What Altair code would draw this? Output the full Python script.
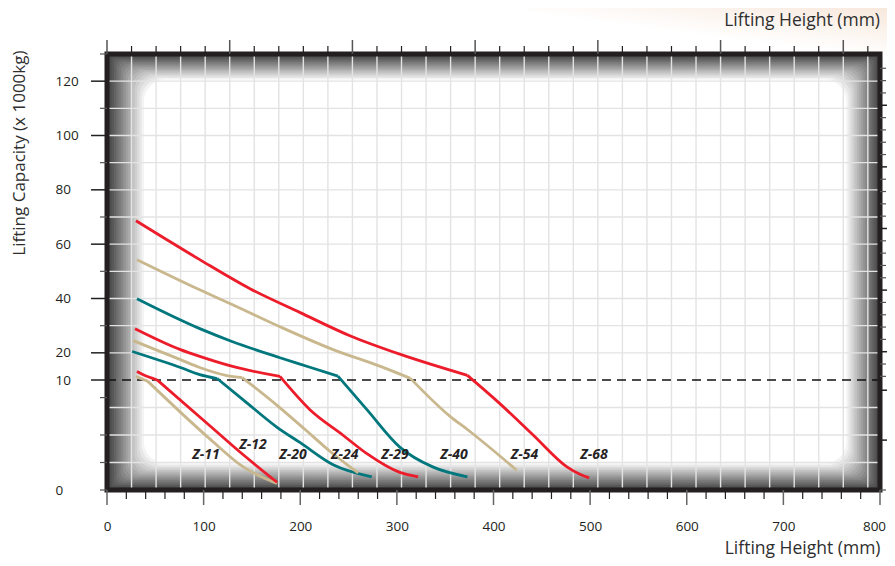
import altair as alt
import pandas as pd

# ---------------- data ----------------
series_names = ["Z-11", "Z-12", "Z-20", "Z-24", "Z-29", "Z-40", "Z-54", "Z-68"]
series_colors = ["#c9b78d", "#ec1c2b", "#00777d", "#c9b78d",
                 "#ec1c2b", "#00777d", "#c9b78d", "#ec1c2b"]

# lifting height (mm) / capacity (x 1000 kg)
z11_x = [30, 42, 107, 141, 176]
z11_y = [11.3, 9.9, 4.6, 2.1, 0.6]
z12_x = [31, 37, 52, 107, 141, 176]
z12_y = [13.1, 12.0, 10.0, 5.8, 3.2, 0.7]
z20_x = [26, 76, 96, 114, 141, 176, 200, 234, 274]
z20_y = [20.5, 14.6, 12.0, 10.55, 8.2, 5.7, 4.3, 2.3, 1.2]
z24_x = [27, 76, 96, 124, 140, 176, 205, 231, 260]
z24_y = [24.5, 17.5, 14.6, 11.65, 10.9, 7.7, 5.5, 3.5, 1.55]
z29_x = [29, 76, 96, 130, 179, 210, 244, 269, 303, 322]
z29_y = [28.9, 21.2, 18.7, 15.0, 11.3, 7.3, 5.0, 3.3, 1.6, 1.2]
z40_x = [31, 96, 130, 179, 210, 239, 269, 303, 337, 373]
z40_y = [39.9, 28.9, 24.1, 18.2, 14.7, 11.4, 7.3, 3.9, 2.1, 1.2]
z54_x = [31, 96, 130, 179, 234, 283, 314, 355, 373, 424]
z54_y = [54.3, 43.2, 37.7, 29.6, 21.2, 15.0, 10.6, 6.7, 5.5, 1.8]
z68_x = [30, 96, 148, 200, 252, 303, 373, 406, 441, 476, 490, 499]
z68_y = [68.6, 54.3, 43.6, 34.8, 26.2, 19.5, 11.7, 7.9, 5.0, 2.1, 1.4, 1.1]
# index of the knee point (end of the gentle part, start of the steep part)
knee_index = [1, 2, 3, 4, 4, 5, 6, 6]

label_x = [102.5, 151, 192.5, 246, 298, 359, 432, 504]
label_y = [3.2, 4.1, 3.2, 3.2, 3.2, 3.2, 3.2, 3.2]

x_labels = [0, 100, 200, 300, 400, 500, 600, 700, 800]
x_minor = [v for v in range(0, 801, 20) if v % 100 != 0]
y_labels = [0, 10, 20, 40, 60, 80, 100, 120]
y_major_ticks = [10, 20, 40, 60, 80, 100, 120]
y_minor_ticks = [0, 2.5, 5, 8.4, 30, 50, 70, 90, 110, 130]
y_grid = [2.5, 5, 7.5, 20, 30, 40, 50, 60, 70, 80, 90, 100, 110, 120]
inch_ticks = list(range(0, 32))                                # top axis (inches)
ton_ticks = [0, 5, 10] + [12.5 + 5 * k for k in range(26)]     # right axis (US tons)
ton_major = [5, 10, 22.5, 47.5, 72.5, 97.5, 122.5]
MM_PER_INCH = 25.4
TONNE_PER_TON = 0.90718

# ---------------- layout ----------------
W, H = 773, 436
FONT = "Open Sans"
INK = "#231f20"
TITLE_COL = "#2e2e2e"

series_x = [z11_x, z12_x, z20_x, z24_x, z29_x, z40_x, z54_x, z68_x]
series_y = [z11_y, z12_y, z20_y, z24_y, z29_y, z40_y, z54_y, z68_y]
rows = []
for name, xs_, ys_, k in zip(series_names, series_x, series_y, knee_index):
    for i, (a, b) in enumerate(zip(xs_, ys_)):
        if i <= k:
            rows.append({"series": name, "seg": name + "a", "i": i, "x": a, "y": b})
        if i >= k:
            rows.append({"series": name, "seg": name + "b", "i": i, "x": a, "y": b})
lines_df = pd.DataFrame(rows)
labels_df = pd.DataFrame({"label": series_names, "x": label_x, "y": label_y})
one = pd.DataFrame({"a": [0]})

xs = alt.Scale(domain=[0, 800], nice=False, zero=False)
ys = alt.Scale(domain=[0, 10, 130], range=[H, H - 110, 0], nice=False, zero=False)

x_axis = alt.Axis(values=x_labels, tickSize=15, tickOpacity=0, labelPadding=14.5,
                  labelFont=FONT, labelFontSize=13.5, labelColor=INK, labelFlush=False,
                  labelOffset={"condition": {"test": "datum.value === 800", "value": -6},
                               "value": 0},
                  labelOverlap=False, domain=False, grid=False,
                  title="Lifting Height (mm)", titleX=W, titleY=63, titleAlign="right",
                  titleBaseline="alphabetic", titleFont=FONT, titleFontSize=17.5,
                  titleFontWeight="normal", titleColor=TITLE_COL)
y_axis = alt.Axis(values=y_labels, tickSize=16, tickOpacity=0, labelPadding=36,
                  labelAlign="left", labelBaseline="middle", labelFont=FONT,
                  labelFontSize=13.5, labelColor=INK, labelOverlap=False, domain=False,
                  grid=False, title="Lifting Capacity (x 1000kg)", titleX=-83, titleY=-4,
                  titleAngle=270, titleAlign="right", titleBaseline="alphabetic",
                  titleFont=FONT, titleFontSize=17, titleFontWeight="normal",
                  titleColor=TITLE_COL)

def X(field):
    return alt.X(field, scale=xs, axis=x_axis)

def Y(field):
    return alt.Y(field, scale=ys, axis=y_axis)

layers = []

# faint warm tint at the top right of the page
glow = {"gradient": "linear", "x1": 0, "y1": 1, "x2": 1, "y2": 0,
        "stops": [{"offset": 0, "color": "#ffffff"}, {"offset": 0.45, "color": "#ffffff"},
                  {"offset": 1, "color": "#f8e8dc"}]}
layers.append(alt.Chart(one).mark_rect(fill=glow).encode(
    x=alt.value(420), x2=alt.value(W + 7), y=alt.value(-46), y2=alt.value(0)))

# dark base of plot area and white vignette
layers.append(alt.Chart(one).mark_rect(fill="#424242").encode(
    x=alt.value(0), x2=alt.value(W), y=alt.value(0), y2=alt.value(H)))
N = 16
for i in range(1, N + 1):
    layers.append(alt.Chart(one).mark_rect(
        fill="#ffffff", opacity=1.0 / (N - i + 1), cornerRadius=i * 1.4
    ).encode(x=alt.value(i * 2.3), x2=alt.value(W - i * 2.1),
             y=alt.value(i * 1.6), y2=alt.value(H - i * 1.65)))

# gridlines
grid_col = "#e3e3e3"
layers.append(alt.Chart(pd.DataFrame({"x": [k * MM_PER_INCH for k in inch_ticks[1:]]}))
              .mark_rule(color=grid_col, strokeWidth=1.4)
              .encode(x=X("x:Q"), y=alt.value(0), y2=alt.value(H)))
layers.append(alt.Chart(pd.DataFrame({"y": y_grid}))
              .mark_rule(color=grid_col, strokeWidth=1.4)
              .encode(y=Y("y:Q"), x=alt.value(0), x2=alt.value(W)))
# dashed 10 t line
layers.append(alt.Chart(pd.DataFrame({"y": [10]}))
              .mark_rule(color="#111111", strokeDash=[9, 6], strokeWidth=1.3)
              .encode(y=Y("y:Q"), x=alt.value(0), x2=alt.value(W)))

# capacity curves
layers.append(alt.Chart(lines_df).mark_line(strokeWidth=2.8, interpolate="monotone").encode(
    x=X("x:Q"), y=Y("y:Q"),
    color=alt.Color("series:N", scale=alt.Scale(domain=series_names, range=series_colors),
                    legend=None),
    detail="seg:N",
    order="i:Q"))

layers.append(alt.Chart(labels_df).mark_text(
    font=FONT, fontSize=14, fontStyle="italic", fontWeight="bold", color="#262223"
).encode(x=X("x:Q"), y=Y("y:Q"), text="label:N"))

# heavy frame
layers.append(alt.Chart(one).mark_rect(fill="#000000", fillOpacity=0, stroke=INK,
                                       strokeWidth=5).encode(
    x=alt.value(0), x2=alt.value(W), y=alt.value(0), y2=alt.value(H)))

# tick marks on all four sides
def xticks(vals, y0, y1, col, w=1.2):
    return alt.Chart(pd.DataFrame({"x": vals})).mark_rule(color=col, strokeWidth=w).encode(
        x=X("x:Q"), y=alt.value(y0), y2=alt.value(y1))

def yticks(vals, x0, x1, col, w=1.2):
    return alt.Chart(pd.DataFrame({"y": vals})).mark_rule(color=col, strokeWidth=w).encode(
        y=Y("y:Q"), x=alt.value(x0), x2=alt.value(x1))

layers.append(xticks(x_labels, H, H + 15, "#666666", 1.5))
layers.append(xticks(x_minor, H, H + 9, INK))
layers.append(xticks([k * MM_PER_INCH for k in inch_ticks if k % 5 == 0], -14, 0, "#555555", 1.5))
layers.append(xticks([k * MM_PER_INCH for k in inch_ticks if k % 5 != 0], -8, 0, INK))
layers.append(yticks(y_major_ticks, -16, 0, INK, 1.5))
layers.append(yticks(y_minor_ticks, -7, 0, "#555555"))
layers.append(yticks([t * TONNE_PER_TON for t in ton_ticks if t in ton_major], W, W + 12, INK, 1.5))
layers.append(yticks([t * TONNE_PER_TON for t in ton_ticks if t not in ton_major], W, W + 6, "#555555"))

# top title
layers.append(alt.Chart(one).mark_text(
    text="Lifting Height (mm)", align="right", baseline="alphabetic", font=FONT,
    fontSize=17.5, color=TITLE_COL).encode(x=alt.value(W), y=alt.value(-28)))

chart = alt.layer(*layers).properties(
    width=W, height=H,
    autosize=alt.AutoSizeParams(type="none"),
    padding={"left": 99, "top": 46, "right": 7, "bottom": 68},
).configure_view(stroke=None)

chart.save("out.html", embed_options={"renderer": "svg", "actions": False})
